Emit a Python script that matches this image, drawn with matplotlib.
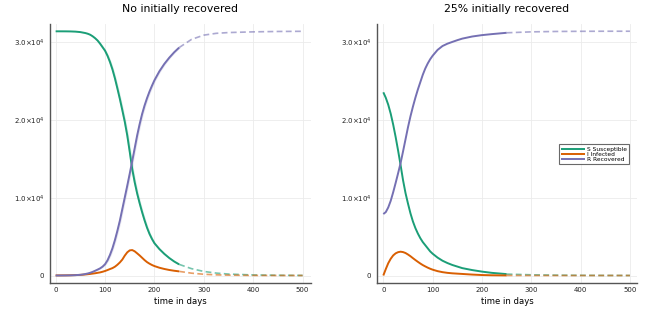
import matplotlib
matplotlib.use("Agg")
import matplotlib.pyplot as plt
import numpy as np

# left panel: no initially recovered (solid part, 0-250 days)
days_l = [0, 10, 20, 30, 40, 50, 55, 60, 65, 70, 75, 80, 85, 90, 95, 100, 105,
          110, 115, 120, 125, 130, 135, 140, 145, 150, 155, 160, 165, 170, 175,
          180, 185, 190, 195, 200, 210, 220, 230, 240, 250]
S_l = [31390, 31388, 31385, 31375, 31350, 31290, 31230, 31170, 31080, 30950,
       30750, 30500, 30200, 29800, 29350, 28900, 28250, 27450, 26500, 25350,
       24050, 22700, 21250, 19750, 18000, 15900, 13700, 12000, 10550, 9300,
       8150, 7100, 6150, 5350, 4700, 4150, 3400, 2780, 2250, 1800, 1430]
I_l = [10, 15, 20, 30, 50, 80, 105, 130, 165, 200, 245, 290, 345, 400, 480,
       580, 700, 830, 950, 1130, 1380, 1680, 2050, 2560, 2980, 3230, 3270,
       3110, 2850, 2580, 2280, 1980, 1720, 1520, 1350, 1210, 1000, 840, 710,
       610, 530]
R_l = [0, 2, 8, 20, 45, 90, 130, 190, 260, 350, 470, 610, 760, 920, 1140,
       1450, 1950, 2650, 3500, 4550, 5750, 7050, 8550, 10050, 11550, 13100,
       14700, 16350, 18000, 19450, 20750, 21850, 22800, 23650, 24400, 25100,
       26250, 27200, 28000, 28700, 29300]

# left panel: dashed continuation 250-500 days
days_ld = [250, 275, 300, 325, 350, 400, 450, 500]
S_ld = [1430, 880, 520, 310, 185, 70, 30, 10]
I_ld = [530, 300, 160, 85, 45, 12, 4, 1]
R_ld = [29300, 30350, 30900, 31130, 31230, 31320, 31370, 31390]

# right panel: 25% initially recovered (solid part)
days_r = [0, 5, 10, 15, 20, 25, 30, 35, 40, 45, 50, 55, 60, 65, 70, 75, 80,
          85, 90, 95, 100, 110, 120, 130, 140, 150, 160, 180, 200, 220, 250]
S_r = [23550, 22850, 21950, 20800, 19400, 17800, 16050, 14200, 12250, 10600,
       9250, 8000, 6950, 6100, 5400, 4800, 4300, 3900, 3500, 3100, 2800, 2300,
       1900, 1600, 1350, 1150, 950, 700, 500, 340, 180]
I_r = [0, 820, 1580, 2150, 2580, 2850, 3000, 3060, 3010, 2890, 2700, 2480,
       2230, 1990, 1760, 1540, 1340, 1170, 1010, 870, 750, 560, 430, 340, 280,
       240, 200, 120, 60, 30, 10]
R_r = [7900, 8150, 8750, 9600, 10700, 11900, 13150, 14450, 15950, 17500, 19050,
       20450, 21700, 22850, 23900, 24850, 25800, 26600, 27250, 27800, 28250,
       29000, 29500, 29800, 30030, 30250, 30450, 30720, 30900, 31030, 31200]

# right panel: dashed continuation
days_rd = [250, 300, 350, 400, 450, 500]
S_rd = [180, 90, 45, 20, 10, 5]
I_rd = [10, 3, 1, 0, 0, 0]
R_rd = [31200, 31320, 31370, 31390, 31400, 31400]

titles = ["No initially recovered", "25% initially recovered"]
labels = ["S Susceptible", "I Infected", "R Recovered"]
colors = ["#1b9e77", "#d95f02", "#7570b3"]

yticks = [0, 10000, 20000, 30000]
ytick_labels = ["0", r"1.0$\times10^{4}$", r"2.0$\times10^{4}$", r"3.0$\times10^{4}$"]
xticks = [0, 100, 200, 300, 400, 500]

fig = plt.figure(figsize=(6.54, 3.14), dpi=100)
ax1 = fig.add_axes([50 / 654, 31 / 314, 261 / 654, 259 / 314])
ax2 = fig.add_axes([377 / 654, 31 / 314, 260 / 654, 259 / 314])

panels = [
    (ax1, days_l, [S_l, I_l, R_l], days_ld, [S_ld, I_ld, R_ld], (-11.4, 516.9), True),
    (ax2, days_r, [S_r, I_r, R_r], days_rd, [S_rd, I_rd, R_rd], (-12.8, 514.3), False),
]

for i, (ax, d, ys, dd, yds, xlim, ribbon) in enumerate(panels):
    d = np.array(d)
    for k in range(3):
        y = np.array(ys[k])
        if ribbon and k != 1:
            ax.fill_betweenx(y, d - 2.5, d + 2.5, color=colors[k], alpha=0.18, lw=0)
        ax.plot(d, y, color=colors[k], lw=1.4, label=labels[k], solid_capstyle="butt")
        ax.plot(dd, yds[k], color=colors[k], lw=1.2, alpha=0.6, dashes=(3.5, 2))
    ax.set_xlim(*xlim)
    ax.set_ylim(-964, 32330)
    ax.set_xticks(xticks)
    ax.set_yticks(yticks)
    ax.set_yticklabels(ytick_labels)
    ax.tick_params(labelsize=5, length=0, pad=3, colors="#222222")
    ax.tick_params(axis="y", pad=4)
    ax.grid(True, color="#ebebeb", lw=0.6)
    ax.set_axisbelow(True)
    for s in ["top", "right"]:
        ax.spines[s].set_visible(False)
    for s in ["left", "bottom"]:
        ax.spines[s].set_color("#555555")
        ax.spines[s].set_linewidth(1.0)
    ax.set_title(titles[i], fontsize=7.8, pad=9)
    ax.set_xlabel("time in days", fontsize=6.1, labelpad=3)

leg = ax2.legend(loc="upper right", bbox_to_anchor=(0.969, 0.535), fontsize=4.2,
                 frameon=True, fancybox=False, handlelength=4.2, handletextpad=0.3,
                 borderpad=0.35, labelspacing=0.05, borderaxespad=0)
leg.get_frame().set_edgecolor("#444444")
leg.get_frame().set_linewidth(0.8)

fig.savefig("out.png", dpi=100)
